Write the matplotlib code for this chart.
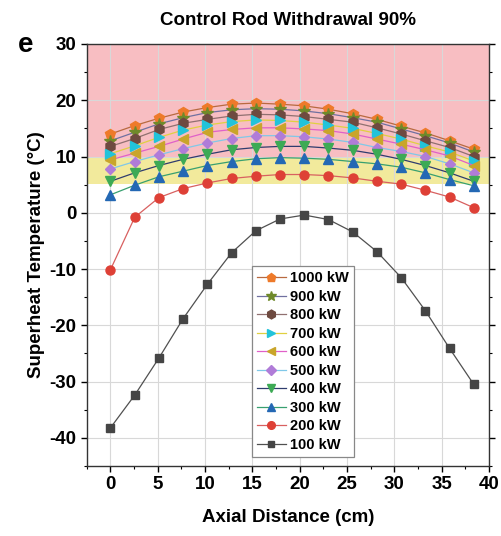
import numpy as np
from matplotlib import pyplot as plt

plt.rcParams["font.family"] = ["Liberation Sans", "DejaVu Sans"]
plt.rcParams["font.weight"] = "bold"
plt.rcParams["axes.unicode_minus"] = False  # 使用普通连字符作负号

# 轴向位置 (cm)
axial = [0, 2.56, 5.12, 7.68, 10.24, 12.8, 15.36, 17.92, 20.48, 23.04,
         25.6, 28.16, 30.72, 33.28, 35.84, 38.4]

# 各功率下的过热温度 (°C)
t_100 = [-38.2, -32.4, -25.8, -18.8, -12.7, -7.1, -3.2, -1.1, -0.4, -1.2,
         -3.4, -6.9, -11.5, -17.4, -24.1, -30.5]
t_200 = [-10.1, -0.8, 2.7, 4.3, 5.3, 6.1, 6.5, 6.8, 6.8, 6.6,
         6.2, 5.6, 5.1, 4.0, 2.8, 0.9]
t_300 = [3.2, 4.9, 6.4, 7.4, 8.4, 9.1, 9.6, 9.8, 9.7, 9.5,
         9.1, 8.7, 8.1, 7.1, 5.9, 4.8]
t_400 = [5.6, 7.1, 8.4, 9.5, 10.4, 11.2, 11.6, 11.8, 11.8, 11.5,
         11.1, 10.4, 9.5, 8.4, 7.1, 5.6]
t_500 = [7.8, 9.1, 10.3, 11.4, 12.4, 13.2, 13.7, 13.7, 13.5, 13.1,
         12.5, 11.6, 10.9, 10.0, 8.7, 7.1]
t_600 = [9.4, 10.6, 11.8, 13.1, 14.3, 14.8, 15.1, 15.1, 14.9, 14.6,
         14.0, 13.1, 12.2, 11.2, 10.1, 8.4]
t_700 = [10.5, 11.9, 13.4, 14.7, 15.6, 16.2, 16.5, 16.4, 16.1, 15.6,
         15.0, 14.1, 13.1, 11.9, 10.8, 9.2]
t_800 = [11.8, 13.2, 14.8, 15.9, 16.6, 17.2, 17.5, 17.4, 17.1, 16.6,
         16.1, 15.1, 14.0, 12.8, 11.6, 10.0]
t_900 = [12.8, 14.3, 15.8, 16.9, 17.8, 18.3, 18.5, 18.4, 18.1, 17.6,
         16.9, 16.1, 14.9, 13.7, 12.4, 10.8]
t_1000 = [14.0, 15.5, 16.8, 17.9, 18.7, 19.3, 19.5, 19.3, 19.0, 18.4,
          17.6, 16.6, 15.4, 14.2, 12.8, 11.3]

labels = ["1000 kW", "900 kW", "800 kW", "700 kW", "600 kW",
          "500 kW", "400 kW", "300 kW", "200 kW", "100 kW"]
series = [t_1000, t_900, t_800, t_700, t_600, t_500, t_400, t_300, t_200, t_100]

# 标记样式、标记颜色、连线颜色
markers = ["p", "*", "h", ">", "<", "D", "v", "^", "o", "s"]
marker_colors = ["#EE7A2A", "#6F8A2A", "#6E4A40", "#22C3DA", "#C9A52A",
                 "#B07CD8", "#3DAA55", "#2468B4", "#DE4036", "#454545"]
line_colors = ["#B86A40", "#7070A0", "#907070", "#E0D040", "#E060C8",
               "#80C8E8", "#2F3C6E", "#38A070", "#D86060", "#505050"]
marker_sizes = [7.5, 8.5, 7.5, 6.5, 6.5, 5.5, 6.5, 6.5, 6.5, 5.5]

fig = plt.figure(figsize=(5.02, 5.36), dpi=100)
ax = fig.add_axes([0.173, 0.1305, 0.801, 0.7875])

# 背景区域
ax.axhspan(9.7, 30, color="#F8BEC2", zorder=0, lw=0)
ax.axhspan(5.2, 9.7, color="#F2EA9C", zorder=0, lw=0)

for y, lab, mk, mc, lc, ms in zip(series, labels, markers, marker_colors,
                                  line_colors, marker_sizes):
    ax.plot(axial, y, color=lc, lw=0.9, marker=mk, markersize=ms,
            markerfacecolor=mc, markeredgecolor=mc, label=lab, zorder=3)

ax.set_xlim(-2.5, 40)
ax.set_ylim(-45, 30)
ax.set_xticks(np.arange(0, 41, 5))
ax.set_yticks(np.arange(-40, 31, 10))
ax.set_xticks(np.arange(-2.5, 40.1, 2.5), minor=True)
ax.set_yticks(np.arange(-45, 30.1, 5), minor=True)
ax.grid(True, which="major", color="#D8D8D8", lw=0.8, zorder=1)
ax.set_axisbelow(True)

ax.tick_params(axis="both", which="major", labelsize=13.5, direction="out",
               length=4, width=1, right=True)
ax.tick_params(axis="both", which="minor", direction="out", length=2.5,
               width=0.8, right=True)
for s in ax.spines.values():
    s.set_linewidth(1.0)
    s.set_color("#333333")

ax.set_xlabel("Axial Distance (cm)", fontsize=13.5, fontweight="bold", labelpad=11)
ax.set_ylabel("Superheat Temperature (°C)", fontsize=13.5, fontweight="bold", labelpad=3)
ax.set_title("Control Rod Withdrawal 90%", fontsize=13.5, fontweight="bold", pad=14)
fig.text(0.035, 0.903, "e", fontsize=20, fontweight="bold")

leg = ax.legend(loc="lower left", bbox_to_anchor=(0.392, 0.004), fontsize=10.5,
                frameon=True, fancybox=False, framealpha=1, edgecolor="#888888",
                handlelength=2.0, handletextpad=0.3, labelspacing=0.31,
                borderpad=0.35, markerscale=0.85)
leg.get_frame().set_linewidth(0.9)

fig.savefig("out.png", dpi=100)
